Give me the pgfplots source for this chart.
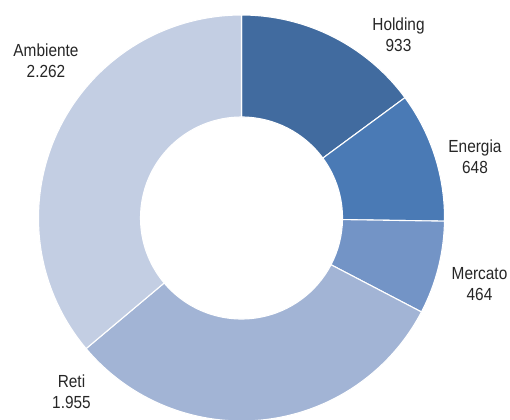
\documentclass[border=0pt]{standalone}
\usepackage{pgfplots}
\usepackage{pgfplotstable}
\pgfplotsset{compat=1.18}
\usepackage{fontspec}
\setmainfont{Liberation Sans}[FakeStretch=0.88]
\definecolor{c0}{RGB}{65,107,159}
\definecolor{c1}{RGB}{74,122,181}
\definecolor{c2}{RGB}{115,148,198}
\definecolor{c3}{RGB}{162,180,213}
\definecolor{c4}{RGB}{195,206,227}
\pgfplotstableread{
label value lx ly
Holding 933 398.5 384.5
Energia 648 475 262.5
Mercato 464 479.5 135
Reti 1955 71.5 27.5
Ambiente 2262 46 358.5
}\donutdata
\def\tot{0}
\pgfplotstableforeachcolumnelement{value}\of\donutdata\as\v{\pgfmathparse{\tot+\v}\xdef\tot{\pgfmathresult}}
\begin{document}
\begin{tikzpicture}
\begin{axis}[name=ax, width=510bp, height=419bp, scale only axis,
  xmin=0, xmax=510, ymin=0, ymax=419, hide axis, clip=false]
\def\cx{241.5}\def\cy{201}
\xdef\cum{0}
\pgfplotsforeachungrouped \i in {0,...,4}{%
  \pgfplotstablegetelem{\i}{value}\of\donutdata \let\v\pgfplotsretval
  \pgfmathsetmacro\aone{90-360*(\cum/\tot)}%
  \pgfmathparse{\cum+\v}\xdef\cum{\pgfmathresult}%
  \pgfmathsetmacro\atwo{90-360*(\cum/\tot)}%
  \edef\temp{\noexpand\fill[fill=c\i, draw=white, line width=1.1bp, line join=round]
    ([shift={(\aone:203bp)}]axis cs:\cx,\cy) arc[start angle=\aone, end angle=\atwo, radius=203bp]
    -- ([shift={(\atwo:101bp)}]axis cs:\cx,\cy) arc[start angle=\atwo, end angle=\aone, radius=101bp] -- cycle;}%
  \temp
  \pgfplotstablegetelem{\i}{label}\of\donutdata \let\lab\pgfplotsretval
  \pgfplotstablegetelem{\i}{lx}\of\donutdata \let\lx\pgfplotsretval
  \pgfplotstablegetelem{\i}{ly}\of\donutdata \let\ly\pgfplotsretval
  \pgfmathparse{\v>=1000 ? 1 : 0}%
  \ifnum\pgfmathresult=1
    \pgfmathtruncatemacro\th{\v/1000}\pgfmathtruncatemacro\rest{\v-1000*\th}%
    \edef\num{\th.\ifnum\rest<100 0\fi\ifnum\rest<10 0\fi\rest}%
  \else
    \edef\num{\v}%
  \fi
  \edef\temp{\noexpand\node[align=center, font=\noexpand\fontsize{17.5bp}{21bp}\noexpand\selectfont, text=black!85, inner sep=0pt] at (axis cs:\lx,\ly) {\lab\noexpand\\\num};}%
  \temp
}
\end{axis}
\pgfresetboundingbox
\path (ax.south west) rectangle (ax.north east);
\end{tikzpicture}
\end{document}
